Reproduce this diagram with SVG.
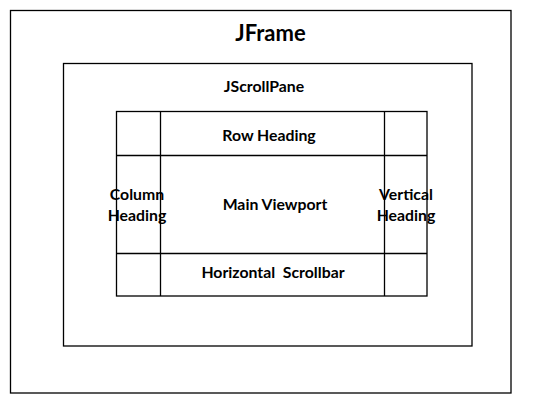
<svg xmlns="http://www.w3.org/2000/svg" width="536" height="404" viewBox="0 0 536 404">
<style>
.box{fill:none;stroke:#000;stroke-width:1.3}
.ln{stroke:#000;stroke-width:1.3}
text{font-family:Lato,"Liberation Sans",sans-serif;font-weight:bold;fill:#000;text-anchor:middle}
.t{font-size:15.8px}
</style>
<rect width="536" height="404" fill="#fff"/>
<g id="jframe">
<rect class="box" x="10.5" y="10.5" width="500.5" height="382.5"/>
<text x="270.5" y="41" font-size="22">JFrame</text>
</g>
<g id="jscrollpane">
<rect class="box" x="63.5" y="63.5" width="408.5" height="282.5"/>
<text class="t" x="264" y="92">JScrollPane</text>
</g>
<g id="grid">
<rect class="box" x="116.5" y="111.5" width="310.5" height="184.5"/>
</g>
<g id="connectors">
<line class="ln" x1="160.5" y1="111.5" x2="160.5" y2="296"/>
<line class="ln" x1="384.5" y1="111.5" x2="384.5" y2="296"/>
<line class="ln" x1="116.5" y1="155.5" x2="427" y2="155.5"/>
<line class="ln" x1="116.5" y1="253.5" x2="427" y2="253.5"/>
</g>
<g id="row-heading"><text class="t" x="269" y="141">Row Heading</text></g>
<g id="main-viewport"><text class="t" x="275" y="210">Main Viewport</text></g>
<g id="column-heading"><text class="t" x="137" y="200">Column</text><text class="t" x="137" y="221">Heading</text></g>
<g id="vertical-heading"><text class="t" x="406" y="200">Vertical</text><text class="t" x="406" y="221">Heading</text></g>
<g id="horizontal-scrollbar"><text class="t" x="273" y="278" xml:space="preserve">Horizontal  Scrollbar</text></g>
</svg>
